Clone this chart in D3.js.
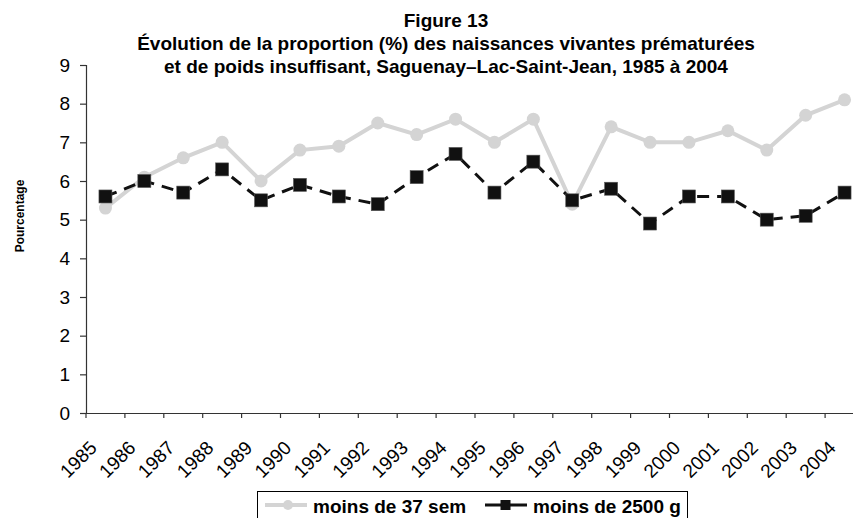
<!DOCTYPE html>
<html>
<head>
<meta charset="utf-8">
<script src="https://cdn.jsdelivr.net/npm/d3@7"></script>
<style>
  body { margin: 0; background: #fff; }
  #chart { width: 853px; height: 518px; overflow: hidden; }
  text { font-family: Arial, "Liberation Sans", sans-serif; }
</style>
</head>
<body>
<div id="chart"></div>
<script>
const years = ["1985","1986","1987","1988","1989","1990","1991","1992","1993","1994",
  "1995","1996","1997","1998","1999","2000","2001","2002","2003","2004"];
const moins37sem = [5.3, 6.1, 6.6, 7.0, 6.0, 6.8, 6.9, 7.5, 7.2, 7.6,
  7.0, 7.6, 5.4, 7.4, 7.0, 7.0, 7.3, 6.8, 7.7, 8.1];
const moins2500g = [5.6, 6.0, 5.7, 6.3, 5.5, 5.9, 5.6, 5.4, 6.1, 6.7,
  5.7, 6.5, 5.5, 5.8, 4.9, 5.6, 5.6, 5.0, 5.1, 5.7];
const yTicks = [0, 1, 2, 3, 4, 5, 6, 7, 8, 9];
const titleLines = [
  "Figure 13",
  "Évolution de la proportion (%) des naissances vivantes prématurées",
  "et de poids insuffisant, Saguenay–Lac-Saint-Jean, 1985 à 2004"
];
const seriesNames = ["moins de 37 sem", "moins de 2500 g"];

const width = 853, height = 518;
const svg = d3.select("#chart").append("svg")
  .attr("width", width)
  .attr("height", height);

// plot area (the right side runs past the picture edge, like the original)
const x = d3.scaleBand().domain(years).range([86, 864]);
const y = d3.scaleLinear().domain([0, 9]).range([413, 65]);
const cx = d => x(d) + x.bandwidth() / 2;

// title
svg.append("g").selectAll("text")
  .data(titleLines)
  .enter().append("text")
  .attr("x", 446)
  .attr("y", (d, i) => 27 + i * 22.8)
  .attr("text-anchor", "middle")
  .style("font-size", "19px")
  .style("font-weight", "bold")
  .text(d => d);

// y axis
const yAxis = svg.append("g")
  .attr("transform", "translate(86,0)")
  .call(d3.axisLeft(y).tickValues(yTicks).tickSize(6).tickPadding(10));
yAxis.selectAll("text").style("font-size", "19px").attr("fill", "#000");

// x axis
const xAxis = svg.append("g")
  .attr("transform", "translate(0,413)")
  .call(d3.axisBottom(x).tickSize(5).tickSizeOuter(0));
xAxis.selectAll(".tick line")
  .attr("transform", `translate(${-x.bandwidth() / 2},0)`);
xAxis.selectAll(".tick text")
  .style("font-size", "19px")
  .attr("fill", "#000")
  .attr("text-anchor", "end")
  .attr("x", 0)
  .attr("y", 0)
  .attr("dy", 0)
  .attr("transform", "translate(-7.5,36) rotate(-45)");
svg.selectAll(".domain, .tick line").attr("stroke", "#333").attr("stroke-width", 1.2);

// y title
svg.append("text")
  .attr("transform", "translate(24,216) rotate(-90)")
  .attr("text-anchor", "middle")
  .style("font-size", "12px")
  .style("font-weight", "bold")
  .text("Pourcentage");

const line = d3.line().x((d, i) => cx(years[i])).y(d => y(d));

// moins de 37 sem : light grey line with dots
svg.append("path")
  .datum(moins37sem)
  .attr("fill", "none")
  .attr("stroke", "#d4d4d4")
  .attr("stroke-width", 4)
  .attr("d", line);
svg.append("g").selectAll("circle")
  .data(moins37sem)
  .enter().append("circle")
  .attr("cx", (d, i) => cx(years[i]))
  .attr("cy", d => y(d))
  .attr("r", 6.5)
  .attr("fill", "#d4d4d4");

// moins de 2500 g : black dashed line with squares
svg.append("path")
  .datum(moins2500g)
  .attr("fill", "none")
  .attr("stroke", "#111")
  .attr("stroke-width", 3)
  .attr("stroke-dasharray", "12,8")
  .attr("d", line);
const sq = 13;
svg.append("g").selectAll("rect")
  .data(moins2500g)
  .enter().append("rect")
  .attr("x", (d, i) => cx(years[i]) - sq / 2)
  .attr("y", d => y(d) - sq / 2)
  .attr("width", sq)
  .attr("height", sq)
  .attr("fill", "#111")
  .attr("stroke", "#555")
  .attr("stroke-width", 0.6);

// legend
const legend = svg.append("g");
legend.append("rect")
  .attr("x", 257.5).attr("y", 491.5)
  .attr("width", 430).attr("height", 40)
  .attr("fill", "#fff")
  .attr("stroke", "#000")
  .attr("stroke-width", 1);
const ly = 505;
const lsq = 10;
legend.append("line")
  .attr("x1", 265).attr("x2", 307).attr("y1", ly).attr("y2", ly)
  .attr("stroke", "#d4d4d4").attr("stroke-width", 4);
legend.append("circle")
  .attr("cx", 288).attr("cy", ly).attr("r", 5).attr("fill", "#d4d4d4");
legend.append("text")
  .attr("x", 313).attr("y", 513)
  .style("font-size", "19px").style("font-weight", "bold")
  .text(seriesNames[0]);
legend.append("line")
  .attr("x1", 485).attr("x2", 527).attr("y1", ly).attr("y2", ly)
  .attr("stroke", "#111").attr("stroke-width", 3);
legend.append("rect")
  .attr("x", 505.5 - lsq / 2).attr("y", ly - lsq / 2)
  .attr("width", lsq).attr("height", lsq)
  .attr("fill", "#111");
legend.append("text")
  .attr("x", 533).attr("y", 513)
  .style("font-size", "19px").style("font-weight", "bold")
  .text(seriesNames[1]);
</script>
</body>
</html>
